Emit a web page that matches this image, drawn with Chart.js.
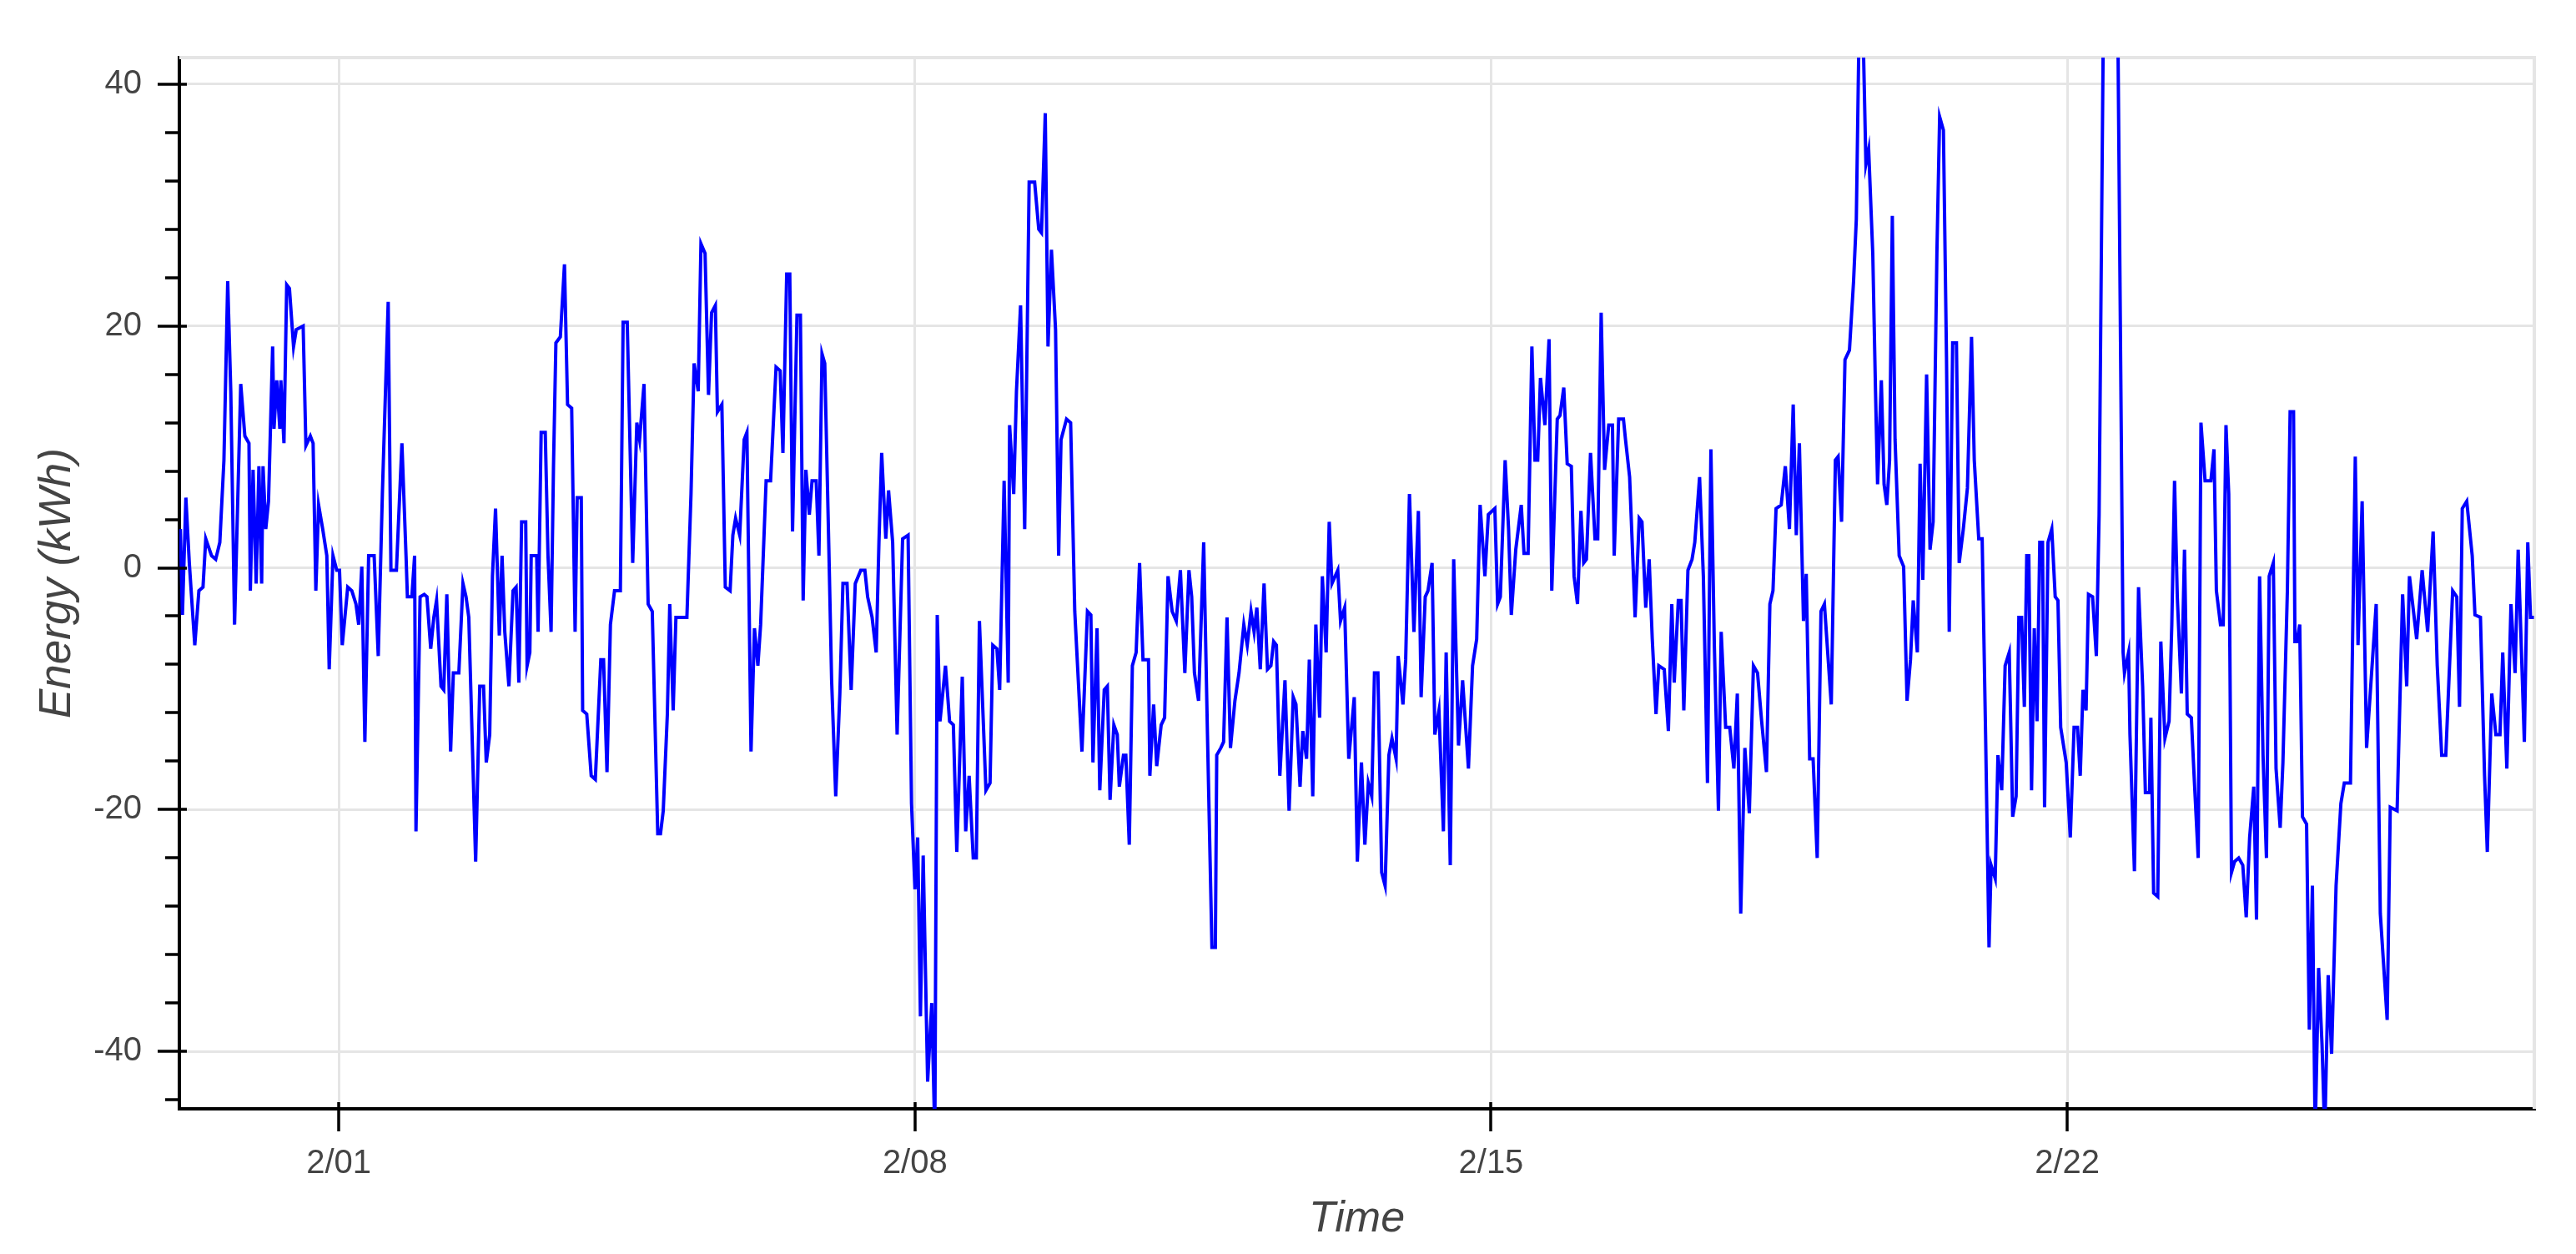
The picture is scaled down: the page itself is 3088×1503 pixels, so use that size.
<!DOCTYPE html>
<html>
<head>
<meta charset="utf-8">
<script src="https://cdn.jsdelivr.net/npm/chart.js@4.4.1/dist/chart.umd.min.js"></script>
<style>
  html, body { margin: 0; padding: 0; background: #fff; }
  canvas { display: block; }
</style>
</head>
<body>
<canvas id="energyChart" width="3088" height="1503"></canvas>
<script>
// hours since 2/01 00:00
const hours = [
  -46.2, -45.6, -44.6, -43.6, -42.0, -40.8, -39.6, -38.8, -37.1, -35.9, -34.7, -33.5, -32.4, -31.5, -30.4, -28.6,
  -27.4, -26.2, -25.8, -25.0, -24.1, -23.3, -22.5, -22.1, -21.3, -20.5, -19.3, -18.9, -18.1, -17.2, -16.9, -16.0,
  -15.2, -14.4, -13.2, -12.4, -10.4, -9.6, -8.3, -7.5, -6.7, -5.9, -4.7, -3.5, -2.8, -1.7, -0.6, 0.2,
  1.0, 2.6, 3.8, 5.0, 5.8, 6.7, 7.6, 8.7, 10.3, 11.5, 12.7, 14.4, 15.2, 16.8, 18.4, 19.6,
  20.0, 21.3, 22.1, 22.5, 23.7, 24.9, 25.7, 26.8, 27.7, 28.5, 29.8, 30.6, 31.5, 32.6, 33.4, 35.0,
  36.2, 37.1, 37.9, 39.9, 41.1, 42.2, 43.0, 44.0, 44.8, 45.7, 46.8, 47.6, 48.4, 49.6, 50.8, 51.7,
  52.5, 53.3, 54.5, 54.9, 55.7, 56.1, 57.7, 58.1, 59.0, 60.2, 61.0, 61.9, 62.6, 63.3, 64.6, 65.8,
  66.7, 67.9, 68.9, 69.5, 70.7, 71.1, 72.3, 73.6, 74.8, 76.4, 77.2, 78.2, 79.2, 80.4, 82.1, 82.9,
  84.1, 85.7, 86.9, 87.7, 89.0, 90.2, 91.4, 93.0, 93.8, 94.6, 95.8, 96.5, 97.5, 98.3, 101.5, 102.7,
  103.6, 104.8, 105.6, 106.8, 107.8, 108.7, 109.8, 110.4, 111.7, 112.7, 114.1, 114.9, 115.7, 116.9, 118.2, 119.0,
  120.2, 121.2, 122.2, 123.0, 124.6, 125.9, 127.5, 128.7, 129.5, 130.6, 131.5, 132.3, 133.6, 134.6, 135.4, 136.2,
  137.2, 138.0, 139.2, 140.0, 140.9, 141.7, 142.9, 143.7, 144.9, 146.1, 147.0, 148.2, 149.4, 150.6, 152.2, 153.4,
  154.2, 155.5, 156.7, 157.5, 158.3, 159.5, 160.3, 161.5, 162.8, 164.4, 166.0, 167.0, 168.0, 168.8, 169.6, 170.4,
  171.7, 172.9, 173.8, 174.5, 175.3, 176.9, 178.1, 179.2, 180.2, 181.8, 182.8, 183.8, 185.0, 185.9, 186.8, 188.7,
  189.9, 190.7, 191.9, 192.7, 194.0, 195.2, 195.6, 196.8, 197.6, 198.8, 200.0, 201.3, 202.9, 204.1, 204.9, 206.0,
  206.8, 207.8, 209.0, 209.9, 210.6, 212.2, 213.4, 214.6, 216.7, 218.3, 219.3, 219.9, 221.1, 221.9, 223.2, 224.1,
  224.9, 226.0, 227.0, 227.6, 228.8, 229.5, 230.5, 231.4, 232.5, 233.5, 234.5, 236.1, 236.5, 237.6, 238.5, 239.8,
  240.8, 241.8, 243.0, 244.2, 245.4, 246.7, 247.9, 248.7, 249.5, 250.7, 252.2, 253.3, 254.6, 255.6, 256.0, 257.2,
  258.0, 259.0, 260.0, 261.3, 262.5, 263.9, 264.9, 266.0, 266.9, 267.7, 268.7, 269.8, 270.8, 271.8, 272.6, 273.4,
  274.4, 275.9, 277.1, 278.3, 279.1, 280.3, 281.1, 282.2, 283.0, 284.0, 284.9, 286.0, 286.8, 287.9, 288.8, 289.6,
  291.3, 292.1, 293.3, 294.5, 296.1, 297.0, 298.2, 299.2, 300.2, 301.2, 302.0, 303.0, 304.1, 305.1, 306.2, 307.1,
  308.3, 308.9, 310.3, 311.1, 312.2, 313.5, 314.8, 315.6, 316.8, 317.6, 318.8, 319.6, 320.8, 322.1, 322.9, 324.1,
  325.1, 326.5, 327.7, 329.4, 330.6, 331.8, 332.8, 334.2, 335.2, 337.1, 337.9, 338.7, 340.1, 341.1, 341.9, 343.2,
  344.8, 345.6, 346.8, 347.9, 348.8, 349.6, 350.4, 351.7, 352.9, 353.7, 355.3, 356.1, 357.2, 358.2, 359.4, 360.2,
  361.2, 362.2, 363.0, 363.8, 365.0, 366.3, 367.1, 368.1, 369.1, 370.3, 371.4, 371.9, 373.2, 374.6, 375.2, 376.4,
  378.0, 379.2, 380.0, 381.1, 382.1, 383.0, 384.1, 384.9, 386.5, 387.7, 388.7, 389.4, 390.6, 391.4, 392.2, 393.4,
  394.6, 395.4, 396.8, 397.9, 399.1, 400.1, 401.1, 402.3, 403.1, 404.4, 405.6, 406.8, 407.8, 408.8, 410.0, 411.3,
  412.5, 413.7, 414.9, 416.3, 417.3, 418.2, 419.1, 420.6, 421.8, 423.0, 424.1, 425.0, 425.9, 427.1, 427.9, 428.9,
  429.9, 431.1, 432.2, 433.2, 435.2, 436.4, 437.2, 438.2, 439.2, 440.5, 441.7, 442.5, 443.3, 444.5, 445.3, 446.1,
  447.3, 448.1, 448.7, 449.8, 450.6, 451.4, 452.2, 453.0, 453.8, 455.0, 456.3, 457.3, 458.3, 459.1, 460.3, 461.1,
  461.9, 463.0, 464.0, 464.9, 466.0, 466.8, 467.9, 468.8, 469.6, 470.6, 471.7, 472.5, 473.7, 474.9, 476.1, 476.9,
  478.2, 479.2, 480.2, 481.2, 481.8, 483.0, 483.8, 484.9, 485.9, 487.1, 488.1, 489.1, 489.9, 490.7, 491.5, 492.2,
  492.8, 493.6, 494.4, 495.2, 496.0, 496.8, 497.4, 498.4, 499.5, 500.5, 501.3, 502.1, 503.7, 504.9, 506.0, 507.0,
  507.8, 508.6, 509.5, 510.2, 511.4, 512.5, 513.3, 514.6, 516.6, 518.7, 520.3, 520.7, 521.9, 522.3, 523.6, 524.8,
  526.0, 526.8, 528.0, 528.4, 529.2, 530.4, 531.3, 532.5, 533.7, 534.5, 535.3, 536.1, 537.3, 538.2, 539.0, 540.2,
  541.0, 542.2, 543.0, 544.2, 545.9, 546.8, 547.5, 548.7, 549.5, 550.3, 551.1, 551.9, 552.8, 554.0, 555.2, 556.2,
  557.2, 558.4, 559.2, 560.1, 561.1, 562.1, 562.9, 564.1, 564.9, 566.1, 566.9, 568.2, 569.0, 570.0, 570.4, 571.0,
  571.8, 572.6, 573.8, 574.6, 575.5, 576.3, 577.3, 578.3, 579.1, 580.1, 581.1, 582.4, 583.8, 584.8, 585.6, 586.6,
  588.0, 588.8, 590.0, 591.3, 592.5, 594.1, 595.3, 597.3, 598.2, 600.2, 601.8, 603.0, 603.8, 605.9, 607.5, 609.1,
  610.7, 611.9, 613.2, 614.4, 616.4, 617.6, 618.4, 619.2, 620.5, 622.1, 622.9, 624.5, 625.7, 626.5, 627.8, 629.0,
  630.2, 631.0, 632.2, 633.4, 634.6, 635.5, 637.3, 638.3, 639.1, 640.1
];

// kWh
const energy = [
  3.2, -3.9, 5.8, 0.4, -6.4, -1.9, -1.6, 2.4, 1.0, 0.7, 2.1, 8.9, 23.7, 14.6, -4.7, 15.2,
  10.9, 10.3, -1.9, 8.1, -1.3, 8.4, -1.3, 8.4, 3.2, 5.5, 18.3, 11.5, 15.5, 11.5, 15.5, 10.3,
  23.4, 23.1, 18.3, 19.7, 20.0, 10.1, 10.9, 10.3, -1.9, 5.2, 3.2, 1.0, -8.4, 1.0, -0.2, -0.2,
  -6.4, -1.6, -1.9, -3.0, -4.7, 0.1, -14.4, 1.0, 1.0, -7.3, 6.1, 22.0, -0.2, -0.2, 10.3, 1.0,
  -2.4, -2.4, 1.0, -21.8, -2.4, -2.2, -2.4, -6.7, -4.1, -2.7, -9.8, -10.1, -2.2, -15.2, -8.7, -8.7,
  -1.3, -2.4, -4.1, -24.3, -9.8, -9.8, -16.1, -13.8, -0.7, 4.9, -5.6, 1.0, -5.3, -9.8, -1.9, -1.6,
  -9.5, 3.8, 3.8, -8.1, -7.0, 1.0, 1.0, -5.3, 11.2, 11.2, 1.0, -5.3, 8.4, 18.6, 19.1, 25.1,
  13.5, 13.2, -5.3, 5.8, 5.8, -11.8, -12.1, -17.2, -17.5, -7.6, -7.6, -16.9, -4.7, -1.9, -1.9, 20.3,
  20.3, 0.4, 12.0, 10.6, 15.2, -3.0, -3.6, -22.0, -22.0, -20.1, -12.1, -3.0, -11.8, -4.1, -4.1, 6.1,
  16.9, 14.6, 26.8, 26.0, 14.3, 21.1, 21.7, 12.9, 13.5, -1.6, -1.9, 2.7, 4.1, 2.7, 10.6, 11.2,
  -15.2, -5.0, -8.1, -4.7, 7.2, 7.2, 16.6, 16.3, 9.5, 24.3, 24.3, 3.0, 20.9, 20.9, -2.7, 8.1,
  4.4, 7.2, 7.2, 1.0, 17.7, 16.9, 1.5, -9.3, -18.9, -10.4, -1.3, -1.3, -10.1, -1.3, -0.2, -0.2,
  -2.4, -4.1, -7.0, 2.1, 9.5, 2.4, 6.4, 2.1, -13.8, 2.4, 2.7, -19.5, -26.6, -22.3, -37.1, -23.8,
  -42.5, -36.0, -47.0, -3.9, -12.7, -8.1, -12.7, -13.0, -23.5, -9.0, -21.8, -17.2, -24.0, -24.0, -4.4, -18.4,
  -17.8, -6.4, -6.7, -10.1, 7.2, -9.5, 11.8, 6.1, 14.6, 21.7, 3.2, 31.9, 31.9, 28.0, 27.7, 37.6,
  18.3, 26.3, 19.7, 1.0, 10.6, 12.3, 12.0, -3.6, -15.2, -3.6, -3.9, -16.1, -5.0, -18.4, -10.1, -9.8,
  -19.2, -13.0, -13.8, -18.1, -15.5, -15.5, -22.9, -8.1, -7.0, 0.4, -7.6, -7.6, -17.2, -11.3, -16.4, -13.0,
  -12.4, -0.7, -3.6, -4.4, -0.2, -8.7, -0.2, -2.4, -8.7, -11.0, 2.1, -13.8, -31.4, -31.4, -15.5, -14.9,
  -14.4, -4.1, -14.9, -11.0, -8.7, -4.7, -6.4, -3.6, -5.3, -3.3, -8.4, -1.3, -8.4, -8.1, -6.1, -6.4,
  -17.2, -9.3, -20.1, -10.7, -11.3, -18.1, -13.5, -15.8, -7.6, -18.9, -4.7, -12.4, -0.7, -7.0, 3.8, -1.3,
  -0.2, -4.4, -3.3, -15.8, -10.7, -24.3, -16.1, -22.9, -17.8, -18.9, -8.7, -8.7, -25.2, -26.3, -15.5, -14.1,
  -15.8, -7.3, -11.3, -7.6, 6.1, -5.3, 4.7, -10.7, -2.4, -1.9, 0.4, -13.8, -11.8, -21.8, -7.0, -24.6,
  0.7, -14.7, -9.3, -16.6, -8.1, -5.9, 5.2, -0.7, 4.4, 4.9, -3.0, -2.4, 8.9, 3.2, -3.9, 1.5,
  5.2, 1.2, 1.2, 18.3, 8.9, 8.9, 15.7, 11.8, 18.9, -1.9, 12.3, 12.6, 14.9, 8.6, 8.4, -0.7,
  -3.0, 4.7, 0.4, 0.7, 9.5, 2.4, 2.4, 21.1, 8.1, 11.8, 11.8, 1.0, 12.3, 12.3, 10.6, 7.5,
  -4.1, 4.1, 3.8, -3.3, 0.7, -5.9, -12.1, -8.1, -8.4, -13.5, -3.0, -9.5, -2.7, -2.7, -11.8, -0.2,
  0.7, 2.1, 7.5, -0.7, -17.8, 9.8, -6.4, -20.1, -5.3, -13.2, -13.2, -16.6, -10.4, -28.6, -14.9, -20.3,
  -8.1, -8.7, -12.7, -16.9, -3.0, -1.9, 4.9, 5.2, 8.4, 3.2, 13.5, 2.7, 10.3, -4.4, -0.5, -15.8,
  -15.8, -24.0, -3.6, -3.0, -11.3, 8.9, 9.2, 3.8, 17.2, 18.0, 23.7, 28.8, 44.5, 44.0, 33.4, 34.6,
  26.0, 14.6, 6.9, 15.5, 6.9, 5.2, 8.9, 29.1, 10.6, 1.0, 0.1, -11.0, -7.6, -2.7, -7.0, 8.6,
  -1.0, 16.0, 1.5, 3.8, 26.0, 37.3, 36.2, 17.4, -5.3, 18.6, 18.6, 0.4, 3.2, 6.6, 19.1, 8.9,
  2.4, 2.4, -13.8, -31.4, -24.6, -25.7, -15.5, -18.4, -8.1, -7.0, -20.6, -18.9, -4.1, -4.1, -11.5, 1.0,
  1.0, -18.4, -5.0, -12.7, 2.1, 2.1, -19.8, 2.1, 3.2, -2.4, -2.7, -13.2, -16.1, -22.3, -13.2, -13.2,
  -17.2, -10.1, -11.8, -2.2, -2.4, -7.3, 4.4, 47.0, 52.0, 47.0, -7.0, -8.7, -7.0, -13.8, -25.1, -1.6,
  -9.8, -18.6, -18.6, -12.4, -26.9, -27.2, -6.1, -14.1, -12.7, -4.7, 7.2, -2.4, -10.4, 1.5, -12.1, -12.4,
  -17.2, -24.0, 12.0, 7.2, 7.2, 9.8, -1.9, -4.7, -4.7, 11.8, 6.1, -25.2, -24.3, -24.0, -24.6, -28.9,
  -22.3, -18.1, -29.1, -0.7, -15.5, -24.0, -0.7, 0.4, -16.6, -21.5, -16.1, -1.9, 12.9, 12.9, -6.1, -6.1,
  -4.7, -20.6, -21.2, -38.2, -26.3, -47.0, -33.1, -39.4, -47.0, -33.7, -40.2, -26.3, -19.5, -17.8, -17.8, -17.8,
  9.2, -6.4, 5.5, -14.9, -9.8, -3.0, -28.6, -37.4, -19.8, -20.1, -2.2, -9.8, -0.7, -5.9, -0.2, -5.3,
  3.0, -8.1, -15.5, -15.5, -1.9, -2.4, -11.5, 4.9, 5.5, 1.0, -3.9, -4.1, -17.2, -23.5, -10.4, -13.8,
  -13.8, -7.0, -16.6, -3.0, -8.7, 1.5, -14.4, 2.1, -4.1, -4.1
];

const xTickHours = [0, 168, 336, 504];
const xTickLabels = ['2/01', '2/08', '2/15', '2/22'];

const X_MIN = -46.5;
const X_MAX = 640.2;
const Y_MIN = -44.75;
const Y_MAX = 42.2;
const Y_MINOR_STEP = 4;

const TEXT = '#444444';
const GRID = '#e5e5e5';
const FONT = '"Liberation Sans", Arial, Helvetica, sans-serif';

const points = hours.map((h, i) => ({ x: h, y: energy[i] }));

// bokeh-like frame: grey outline on top/right, tick marks sticking out of the axes
const frameAndTicks = {
    id: 'frameAndTicks',
    beforeDatasetsDraw(chart) {
        const { ctx, chartArea: a } = chart;
        ctx.save();
        ctx.strokeStyle = GRID;
        ctx.lineWidth = 4;
        ctx.beginPath();
        ctx.moveTo(a.left, a.top);
        ctx.lineTo(a.right, a.top);
        ctx.lineTo(a.right, a.bottom);
        ctx.stroke();
        ctx.restore();
    },
    afterDraw(chart) {
        const { ctx, chartArea: a, scales: { x, y } } = chart;
        ctx.save();
        ctx.strokeStyle = '#000';
        ctx.lineWidth = 3.5;
        ctx.beginPath();
        y.ticks.forEach((t) => {
            const p = Math.round(y.getPixelForValue(t.value));
            ctx.moveTo(a.left - 26, p);
            ctx.lineTo(a.left + 9, p);
        });
        for (let v = Math.ceil(Y_MIN / Y_MINOR_STEP) * Y_MINOR_STEP; v <= Y_MAX; v += Y_MINOR_STEP) {
            if (v % 20 === 0) continue;
            const p = Math.round(y.getPixelForValue(v));
            ctx.moveTo(a.left - 17, p);
            ctx.lineTo(a.left, p);
        }
        x.ticks.forEach((t) => {
            const p = Math.round(x.getPixelForValue(t.value));
            ctx.moveTo(p, a.bottom - 8);
            ctx.lineTo(p, a.bottom + 27);
        });
        ctx.stroke();
        ctx.restore();
    },
};

new Chart(document.getElementById('energyChart'), {
    type: 'line',
    data: {
        datasets: [
            {
                label: 'Energy',
                data: points,
                borderColor: '#0000ff',
                borderWidth: 4,
                pointRadius: 0,
                tension: 0,
                fill: false,
            },
        ],
    },
    options: {
        responsive: false,
        devicePixelRatio: 1,
        animation: false,
        layout: { padding: { top: 52, right: 50, left: 0, bottom: 0 } },
        plugins: {
            legend: { display: false },
            tooltip: { enabled: false },
        },
        scales: {
            x: {
                type: 'linear',
                min: X_MIN,
                max: X_MAX,
                afterFit(scale) {
                    scale.height = 174;
                },
                afterBuildTicks(scale) {
                    scale.ticks = xTickHours.map((v) => ({ value: v }));
                },
                ticks: {
                    autoSkip: false,
                    maxRotation: 0,
                    padding: 42,
                    color: TEXT,
                    font: { family: FONT, size: 40 },
                    callback(value, index) {
                        return xTickLabels[index];
                    },
                },
                grid: { color: GRID, lineWidth: 3, drawTicks: false },
                border: { color: '#000', width: 4 },
                title: {
                    display: true,
                    text: 'Time',
                    color: TEXT,
                    font: { family: FONT, size: 52, style: 'italic' },
                    padding: { top: 0, bottom: 10 },
                },
            },
            y: {
                min: Y_MIN,
                max: Y_MAX,
                afterFit(scale) {
                    scale.width = 215;
                },
                ticks: {
                    stepSize: 20,
                    includeBounds: false,
                    padding: 45,
                    color: TEXT,
                    font: { family: FONT, size: 40 },
                },
                grid: { color: GRID, lineWidth: 3, drawTicks: false },
                border: { color: '#000', width: 4 },
                title: {
                    display: true,
                    text: 'Energy (kWh)',
                    color: TEXT,
                    font: { family: FONT, size: 53, style: 'italic' },
                    padding: { top: 37, bottom: 0 },
                },
            },
        },
    },
    plugins: [frameAndTicks],
});
</script>
</body>
</html>
